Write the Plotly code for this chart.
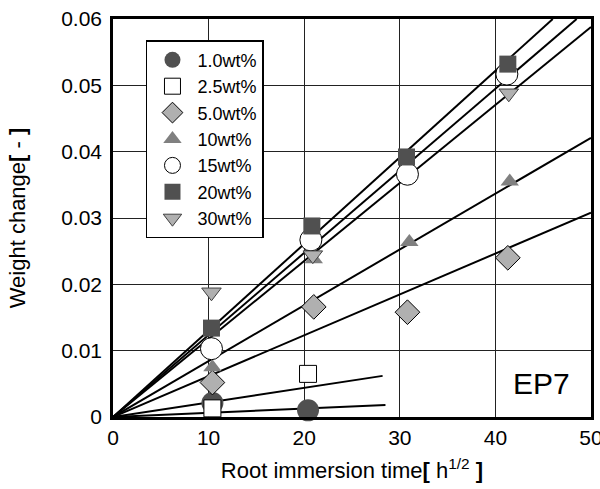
import plotly.graph_objects as go

# ---- data ----
series_names = ["1.0wt%", "2.5wt%", "5.0wt%", "10wt%", "15wt%", "20wt%", "30wt%"]

x_10 = [10.4, 20.4]
y_1p0 = [0.0021, 0.0010]

x_25 = [10.4, 20.4]
y_2p5 = [0.0013, 0.0065]

x_50 = [10.4, 21.0, 30.8, 41.3]
y_5p0 = [0.0052, 0.0166, 0.0158, 0.0240]

x_100 = [10.4, 21.0, 31.0, 41.5]
y_10 = [0.0075, 0.0238, 0.0264, 0.0355]

x_150 = [10.3, 20.7, 30.8, 41.2]
y_15 = [0.0103, 0.0267, 0.0366, 0.0517]

x_200 = [10.3, 20.8, 30.7, 41.3]
y_20 = [0.0134, 0.0288, 0.0392, 0.0532]

x_300 = [10.3, 20.9, 41.4]
y_30 = [0.0188, 0.0244, 0.0488]

# fitted straight lines through the origin: end points
fit_end_x = [28.5, 28.2, 50.0, 50.0, 48.5, 46.0, 50.0]
fit_end_y = [0.0018, 0.0062, 0.0308, 0.0421, 0.0600, 0.0600, 0.0588]

x_ticks = [0, 10, 20, 30, 40, 50]
y_ticks = [0, 0.01, 0.02, 0.03, 0.04, 0.05, 0.06]

FONT = "Liberation Sans, Arial, sans-serif"

fig = go.Figure()

# fit lines (below markers)
for xe, ye in zip(fit_end_x, fit_end_y):
    fig.add_trace(go.Scatter(x=[0, xe], y=[0, ye], mode="lines",
                             line=dict(color="black", width=2),
                             showlegend=False, hoverinfo="skip"))

styles = [
    (x_10, y_1p0, "circle", 22, "#505050", "#505050", 0),
    (x_25, y_2p5, "square", 17, "white", "black", 1),
    (x_50, y_5p0, "diamond", 19, "#b0b0b0", "black", 1),
    (x_100, y_10, "triangle-up", 16, "#808080", "#808080", 0),
    (x_150, y_15, "circle", 22, "white", "black", 1),
    (x_200, y_20, "square", 17, "#505050", "#505050", 0),
    (x_300, y_30, "triangle-down", 17, "#b0b0b0", "#404040", 1),
]

for name, (xs, ys, sym, size, fill, edge, lw) in zip(series_names, styles):
    fig.add_trace(go.Scatter(
        x=xs, y=ys, mode="markers", name=name,
        marker=dict(symbol=sym, size=size, color=fill,
                    line=dict(color=edge, width=lw)),
        cliponaxis=False,
    ))

fig.add_annotation(text="EP7", x=0.897, y=0.085, xref="paper", yref="paper",
                   xanchor="center", yanchor="middle",
                   showarrow=False, font=dict(family=FONT, size=30, color="black"))

fig.update_layout(
    width=600, height=489,
    margin=dict(l=113, r=9, t=19, b=72),
    paper_bgcolor="white", plot_bgcolor="white",
    font=dict(family=FONT, color="black"),
    legend=dict(x=0.069, y=0.947, xanchor="left", yanchor="top",
                bgcolor="white", bordercolor="black", borderwidth=1.5,
                font=dict(family=FONT, size=18, color="black"),
                tracegroupgap=0, itemwidth=40),
    showlegend=True,
)

fig.update_xaxes(range=[0, 50], tickvals=x_ticks, ticktext=[str(v) for v in x_ticks],
                 automargin=False, ticklabeloverflow="allow",
                 showgrid=True, gridcolor="#222", gridwidth=1,
                 showline=True, linecolor="black", linewidth=2.5, mirror=True,
                 zeroline=False, ticks="",
                 tickfont=dict(family=FONT, size=21),
                 title=dict(text="Root immersion time<b>[</b> h<sup>1/2</sup> <b>]</b>",
                            font=dict(family=FONT, size=22)))

fig.update_yaxes(range=[0, 0.06], tickvals=y_ticks,
                 ticktext=["0", "0.01", "0.02", "0.03", "0.04", "0.05", "0.06"],
                 automargin=False, ticklabelstandoff=4, ticklabeloverflow="allow",
                 showgrid=True, gridcolor="#222", gridwidth=1,
                 showline=True, linecolor="black", linewidth=2.5, mirror=True,
                 zeroline=False, ticks="",
                 tickfont=dict(family=FONT, size=21),
                 title=dict(text="Weight change<b>[</b> - <b>]</b>",
                            font=dict(family=FONT, size=22), standoff=30))

fig.write_html("out.html", config={"displayModeBar": False},
               post_script="document.body.style.margin='0';document.body.style.overflow='hidden';")
